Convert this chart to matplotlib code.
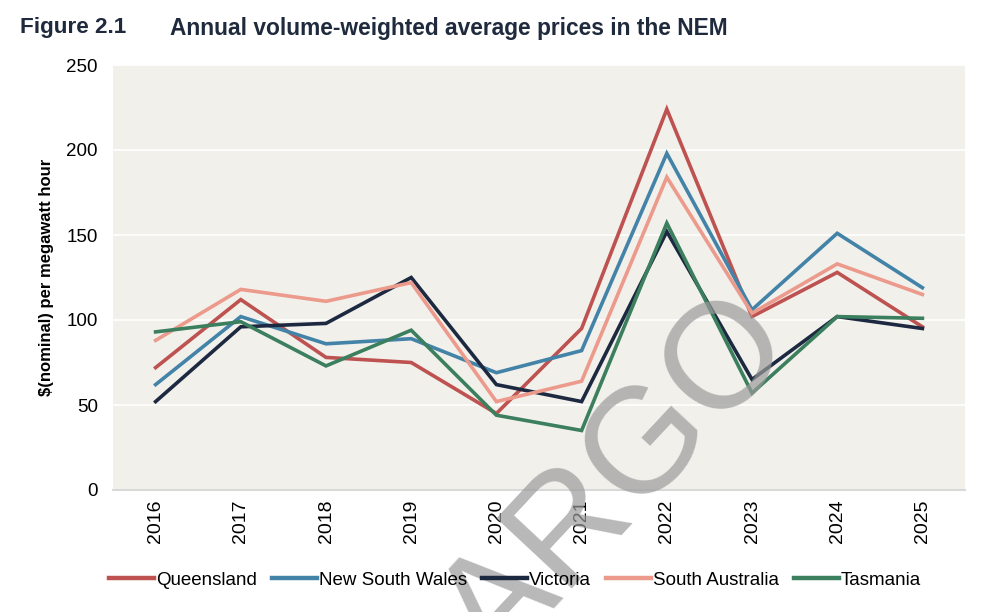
import matplotlib.pyplot as plt

years = ['2016', '2017', '2018', '2019', '2020', '2021', '2022', '2023', '2024', '2025']
queensland = [72, 112, 78, 75, 45, 95, 224, 102, 128, 96]
nsw = [62, 102, 86, 89, 69, 82, 198, 106, 151, 119]
victoria = [52, 96, 98, 125, 62, 52, 152, 65, 102, 95]
south_australia = [88, 118, 111, 122, 52, 64, 184, 104, 133, 115]
tasmania = [93, 99, 73, 94, 44, 35, 157, 57, 102, 101]

series = [
    ('Queensland', queensland, '#BD5250'),
    ('New South Wales', nsw, '#4383A8'),
    ('Victoria', victoria, '#1C2940'),
    ('South Australia', south_australia, '#EC9A8C'),
    ('Tasmania', tasmania, '#3B7F5E'),
]

plt.rcParams['font.family'] = ['Liberation Sans', 'DejaVu Sans']

fig = plt.figure(figsize=(10, 6.12), dpi=100)
ax = fig.add_axes([0.113, 1 - 490 / 612, 0.852, 425 / 612])
ax.set_facecolor('#F2F0EB')

x = range(len(years))
for name, vals, col in series:
    ax.plot(x, vals, color=col, linewidth=2.6, label=name, solid_joinstyle='miter')

ax.set_xlim(-0.5, len(years) - 0.5)
ax.set_ylim(0, 250)
ax.set_yticks(range(0, 251, 50))
ax.set_xticks(list(x))
ax.set_xticklabels(years, rotation=90, fontsize=14)
ax.tick_params(axis='y', labelsize=13.5, length=0, pad=11)
ax.tick_params(axis='x', length=0, pad=7)
ax.grid(axis='y', color='white', linewidth=1.2)
ax.set_axisbelow(True)
for s in ['top', 'right', 'left']:
    ax.spines[s].set_visible(False)
ax.spines['bottom'].set_color('#D9D9D9')
ax.spines['bottom'].set_linewidth(1.5)

ax.set_ylabel('$(nominal) per megawatt hour', fontsize=12, fontweight='bold', labelpad=9)

leg = fig.legend(loc='center', bbox_to_anchor=(0.515, 1 - 580 / 612), ncol=5, frameon=False,
                 handlelength=2.4, handletextpad=0.1, columnspacing=0.8,
                 prop={'size': 13.5})
for h in leg.get_lines():
    h.set_linewidth(3.2)

fig.text(0.02, 1 - 28 / 612, 'Figure 2.1', fontsize=16.2, fontweight='bold', color='#1F2A3C', va='center')
fig.text(0.17, 1 - 28 / 612, 'Annual volume-weighted average prices in the NEM', fontsize=16.4,
         fontweight='bold', color='#1F2A3C', va='center')

# watermark
fig.text(0.765, 1 - 311 / 612, 'EMBARGO', fontsize=108, color='#9A9A9A', alpha=0.7,
         rotation=47, rotation_mode='anchor', ha='right', va='center')

fig.savefig('out.png', dpi=100)
